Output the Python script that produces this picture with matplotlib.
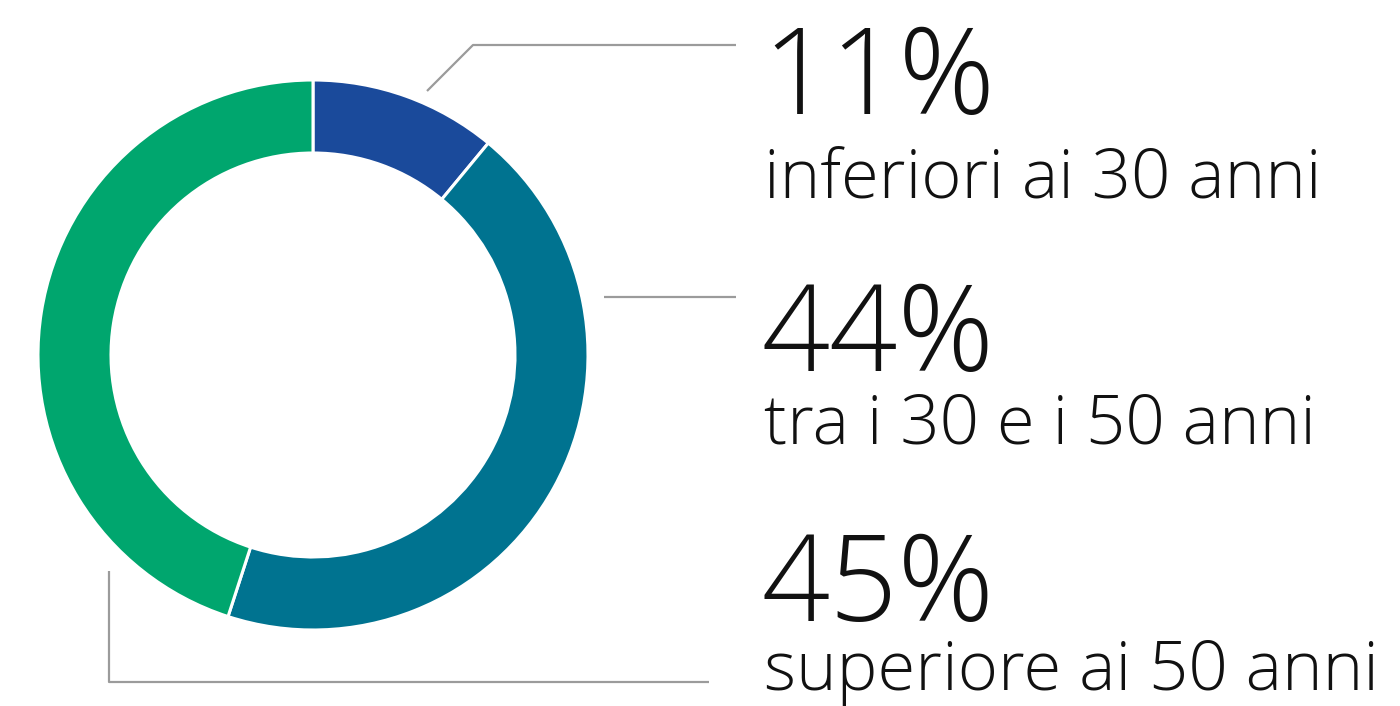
import matplotlib.pyplot as plt

# quote per fascia d'età
labels = ["inferiori ai 30 anni", "tra i 30 e i 50 anni", "superiore ai 50 anni"]
values = [11, 44, 45]
colors = ["#1a4a9b", "#007390", "#00a66e"]

W, H = 1400, 706
fig = plt.figure(figsize=(W / 100, H / 100), dpi=100)
ax = fig.add_axes([0, 0, 1, 1])

# ciambella
ax.pie(values, colors=colors, startangle=90, counterclock=False,
       center=(313, H - 355), radius=275, frame=True,
       wedgeprops=dict(width=73, edgecolor="white", linewidth=2.2))
ax.set_xlim(0, W)
ax.set_ylim(0, H)
ax.set_aspect("equal")
ax.axis("off")

# linee di richiamo
lc = "#9b9b9b"
lw = 1.6
ax.plot([427, 473, 736], [H - 91, H - 45, H - 45], color=lc, lw=lw, solid_capstyle="butt")
ax.plot([604, 736], [H - 297, H - 297], color=lc, lw=lw, solid_capstyle="butt")
ax.plot([109, 109, 709], [H - 571, H - 682, H - 682], color=lc, lw=lw, solid_capstyle="butt")

font = ["Open Sans", "DejaVu Sans"]
pct_y = [114, 371, 621]
lab_y = [197, 444, 690]
for v, lab, py, ly in zip(values, labels, pct_y, lab_y):
    ax.text(762, H - py, f"{v}%", fontsize=86, fontweight="light", family=font,
            va="baseline", ha="left", color="#111111")
    ax.text(764, H - ly, lab, fontsize=49.5, fontweight="light", family=font,
            va="baseline", ha="left", color="#111111")

fig.savefig("out.png", dpi=100, facecolor="white")
